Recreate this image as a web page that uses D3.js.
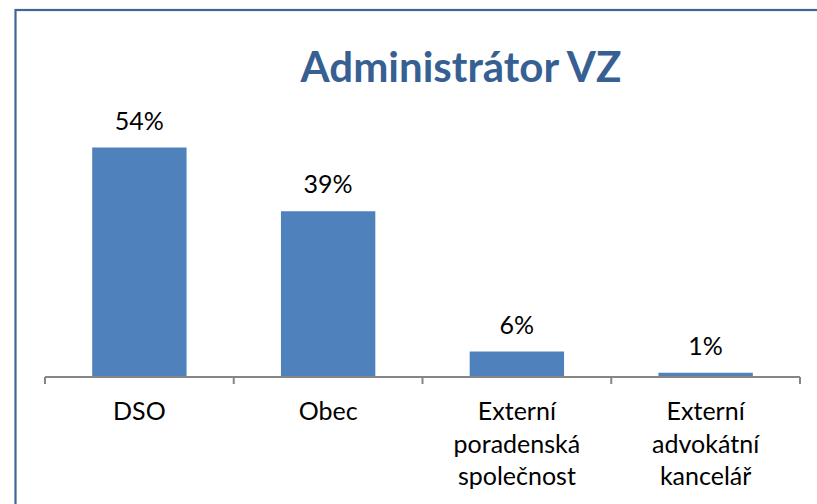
<!DOCTYPE html>
<html><head><meta charset="utf-8">
<script src="https://cdn.jsdelivr.net/npm/d3@7"></script>
<style>body{margin:0;background:#fff}svg{display:block}</style>
</head><body>
<svg id="c" width="817" height="504"></svg>
<script>
const categories = [["DSO"], ["Obec"], ["Externí", "poradenská", "společnost"], ["Externí", "advokátní", "kancelář"]];
const values = [54, 39, 6, 1];
const valueLabels = ["54%", "39%", "6%", "1%"];
const title = "Administrátor VZ";

const svg = d3.select("#c");
const font = "Lato, Carlito, Calibri, sans-serif";

// outer border
svg.append("rect").attr("x", 15.5).attr("y", 10).attr("width", 830).attr("height", 520)
  .attr("fill", "none").attr("stroke", "#3C6797").attr("stroke-width", 2.2);

const idx = d3.range(values.length);
const x = d3.scaleBand().domain(idx).range([45, 800]).paddingInner(0.5).paddingOuter(0.25);
const y = d3.scaleLinear().domain([0, 60]).range([377, 122]);

svg.append("text").attr("x", 461).attr("y", 82).attr("text-anchor", "middle")
  .attr("font-family", font).attr("font-weight", "bold").attr("font-size", 42)
  .attr("fill", "#376092").text(title);

svg.selectAll("rect.bar").data(idx).join("rect").attr("class", "bar")
  .attr("x", i => x(i)).attr("width", x.bandwidth())
  .attr("y", i => y(values[i])).attr("height", i => y(0) - y(values[i]))
  .attr("fill", "#4F81BD");

svg.selectAll("text.val").data(idx).join("text").attr("class", "val")
  .attr("x", i => x(i) + x.bandwidth() / 2).attr("y", i => y(values[i]) - 18)
  .attr("text-anchor", "middle").attr("font-family", font).attr("font-size", 25)
  .attr("fill", "#000").text(i => valueLabels[i]);

// axis
const half = x.step() * x.paddingInner() / 2;
const edges = idx.map(i => x(i) - half).concat([x(idx.length - 1) + x.bandwidth() + half]);
svg.append("line").attr("x1", edges[0]).attr("x2", edges[edges.length - 1])
  .attr("y1", y(0)).attr("y2", y(0)).attr("stroke", "#868686").attr("stroke-width", 2);
svg.selectAll("line.tick").data(edges).join("line").attr("class", "tick")
  .attr("x1", d => d).attr("x2", d => d).attr("y1", y(0)).attr("y2", y(0) + 7)
  .attr("stroke", "#868686").attr("stroke-width", 2);

const lab = svg.selectAll("text.cat").data(idx).join("text").attr("class", "cat")
  .attr("text-anchor", "middle").attr("font-family", font).attr("font-size", 25).attr("fill", "#000");
lab.each(function(i) {
  d3.select(this).selectAll("tspan").data(categories[i]).join("tspan")
    .attr("x", x(i) + x.bandwidth() / 2).attr("y", (d, k) => y(0) + 43 + k * 32.5).text(d => d);
});
</script>
</body></html>
